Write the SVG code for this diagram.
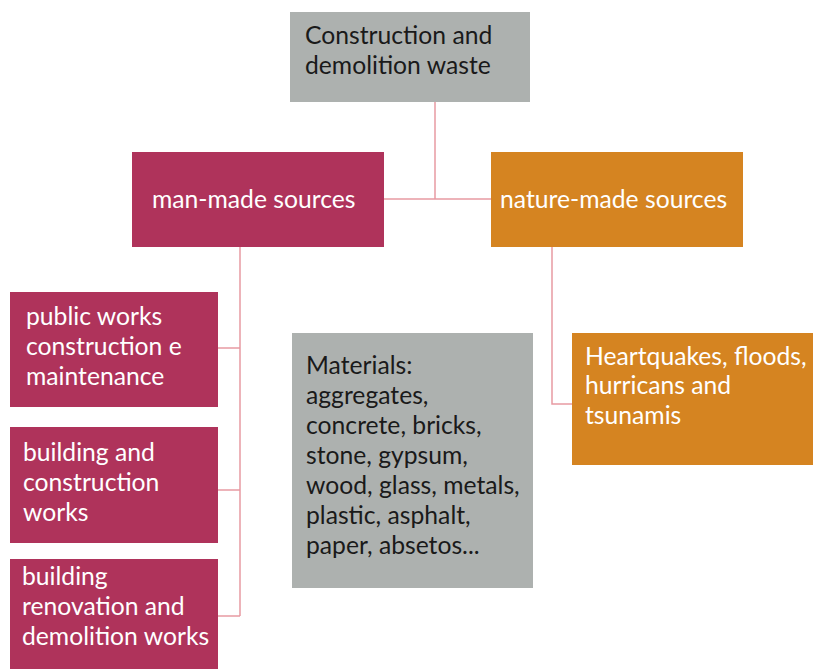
<svg xmlns="http://www.w3.org/2000/svg" width="813" height="669" viewBox="0 0 813 669">
<style>
text{font-family:Lato,"Noto Sans","Liberation Sans",sans-serif;font-size:24.7px}
.gray{fill:#adb1af}
.red{fill:#af335b}
.orange{fill:#d58421}
.dk{fill:#1a1a1a}
.wt{fill:#ffffff}
.ln{stroke:#e79aa2;stroke-width:1.5;fill:none}
</style>
<rect width="813" height="669" fill="#ffffff"/>
<g id="connectors">
<path class="ln" d="M435,102 V199 M384,199 H491"/>
<path class="ln" d="M240,247 V616 M218,348 H240 M218,490 H240 M218,616 H240"/>
<path class="ln" d="M552,247 V404 H572"/>
</g>
<g id="root">
<rect class="gray" x="290" y="12" width="240" height="90"/>
<text class="dk" x="305" y="44">Construction and</text>
<text class="dk" x="305" y="74">demolition waste</text>
</g>
<g id="manmade">
<rect class="red" x="132" y="152" width="252" height="95"/>
<text class="wt" x="152" y="208">man-made sources</text>
</g>
<g id="naturemade">
<rect class="orange" x="491" y="152" width="252" height="95"/>
<text class="wt" x="500" y="208">nature-made sources</text>
</g>
<g id="public">
<rect class="red" x="10" y="292" width="208" height="115"/>
<text class="wt" x="26" y="325">public works</text>
<text class="wt" x="26" y="355">construction e</text>
<text class="wt" x="26" y="385">maintenance</text>
</g>
<g id="building">
<rect class="red" x="10" y="427" width="208" height="116"/>
<text class="wt" x="23" y="461">building and</text>
<text class="wt" x="23" y="491">construction</text>
<text class="wt" x="23" y="521">works</text>
</g>
<g id="renovation">
<rect class="red" x="10" y="559" width="208" height="110"/>
<text class="wt" x="22" y="585">building</text>
<text class="wt" x="22" y="615">renovation and</text>
<text class="wt" x="22" y="645">demolition works</text>
</g>
<g id="materials">
<rect class="gray" x="292" y="333" width="241" height="255"/>
<text class="dk" x="306" y="374">Materials:</text>
<text class="dk" x="306" y="404">aggregates,</text>
<text class="dk" x="306" y="434">concrete, bricks,</text>
<text class="dk" x="306" y="464">stone, gypsum,</text>
<text class="dk" x="306" y="494">wood, glass, metals,</text>
<text class="dk" x="306" y="524">plastic, asphalt,</text>
<text class="dk" x="306" y="554">paper, absetos...</text>
</g>
<g id="disasters">
<rect class="orange" x="572" y="333" width="241" height="132"/>
<text class="wt" x="585" y="365">Heartquakes, floods,</text>
<text class="wt" x="585" y="394">hurricans and</text>
<text class="wt" x="585" y="424">tsunamis</text>
</g>
</svg>
